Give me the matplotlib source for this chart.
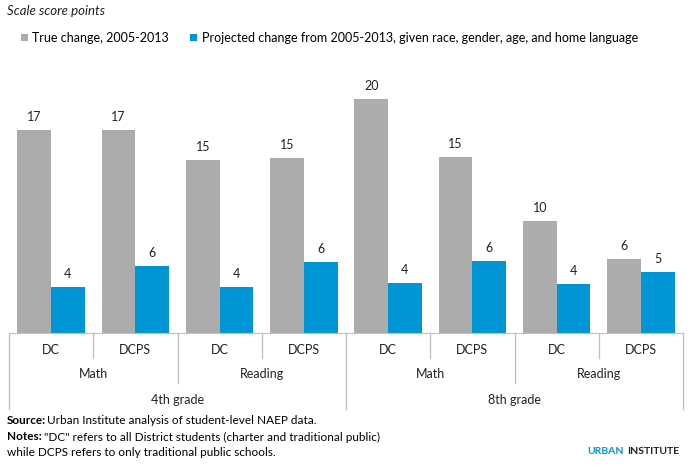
import matplotlib.pyplot as plt
import matplotlib.transforms as mtransforms
import numpy as np

plt.rcParams['font.family'] = ['Lato', 'DejaVu Sans']

# data
schools = ['DC', 'DCPS', 'DC', 'DCPS', 'DC', 'DCPS', 'DC', 'DCPS']
subjects = ['Math', 'Reading', 'Math', 'Reading']
grades = ['4th grade', '8th grade']
true_change = [17.4, 17.4, 14.8, 15.0, 20.1, 15.1, 9.6, 6.3]
projected_change = [3.9, 5.7, 3.9, 6.1, 4.3, 6.2, 4.2, 5.2]
series_names = ['True change, 2005-2013',
                'Projected change from 2005-2013, given race, gender, age, and home language']

gray = '#acacac'
blue = '#0096d6'
linec = '#bfbfbf'
W, H = 694, 471

fig = plt.figure(figsize=(W / 100, H / 100), dpi=100)
base = 332.7
top = 60.3
ax = fig.add_axes([9 / W, (H - base) / H, 674 / W, (base - top) / H])

x = np.arange(len(schools))
bw = 0.4
b1 = ax.bar(x - bw / 2, true_change, bw, color=gray, label=series_names[0])
b2 = ax.bar(x + bw / 2, projected_change, bw, color=blue, label=series_names[1])
for bars, vals in [(b1, true_change), (b2, projected_change)]:
    for r, v in zip(bars, vals):
        ax.annotate('%.0f' % v, (r.get_x() + r.get_width() / 2, v),
                    xytext=(0, 5), textcoords='offset points',
                    ha='center', va='bottom', fontsize=9, color='#222222')

ax.set_xlim(-0.5, 7.5)
ax.set_ylim(0, 23.4)
ax.set_xticks([])
ax.set_yticks([])
for s in ['left', 'right', 'top']:
    ax.spines[s].set_visible(False)
ax.spines['bottom'].set_color(linec)

# multi-level category axis
tr = mtransforms.blended_transform_factory(ax.transData, fig.transFigure)
def fy(px):
    return 1 - px / H

for xb in [0.5, 2.5, 4.5, 6.5]:
    ax.plot([xb, xb], [fy(base), fy(358)], color=linec, lw=0.9, transform=tr, clip_on=False)
for xb in [1.5, 5.5]:
    ax.plot([xb, xb], [fy(base), fy(383)], color=linec, lw=0.9, transform=tr, clip_on=False)
for xb in [-0.5, 3.5, 7.5]:
    ax.plot([xb, xb], [fy(base), fy(408.5)], color=linec, lw=0.9, transform=tr, clip_on=False)

for i, s in enumerate(schools):
    ax.text(i, fy(350), s, transform=tr, ha='center', va='center', fontsize=9, color='#222222')
for i, s in enumerate(subjects):
    ax.text(2 * i + 0.5, fy(374.5), s, transform=tr, ha='center', va='center', fontsize=9, color='#222222')
for i, s in enumerate(grades):
    ax.text(4 * i + 1.5, fy(400), s, transform=tr, ha='center', va='center', fontsize=9, color='#222222')

# title and legend
fig.text(7 / W, fy(11), 'Scale score points', style='italic', fontsize=9.5,
         ha='left', va='center', color='#222222')
fig.legend(handles=[b1, b2], loc='center left', bbox_to_anchor=(21 / W, fy(38)),
           ncol=2, frameon=False, fontsize=9, handlelength=0.55, handleheight=0.55,
           handletextpad=0.35, columnspacing=1.7, borderaxespad=0, borderpad=0)

# footer
fs = 8.5
fig.text(7 / W, fy(421), 'Source:', fontweight='bold', fontsize=fs, va='center')
fig.text(47 / W, fy(421), 'Urban Institute analysis of student-level NAEP data.', fontsize=fs, va='center')
fig.text(7 / W, fy(437), 'Notes:', fontweight='bold', fontsize=fs, va='center')
fig.text(44 / W, fy(437), '"DC" refers to all District students (charter and traditional public)',
         fontsize=fs, va='center')
fig.text(7 / W, fy(452), 'while DCPS refers to only traditional public schools.', fontsize=fs, va='center')
fig.text(587 / W, fy(452), 'URBAN', fontweight='bold', fontsize=7.5, color=blue, va='center')
fig.text(627 / W, fy(452), 'INSTITUTE', fontweight='bold', fontsize=7.5, color='#222222', va='center')

plt.savefig('out.png', dpi=100)
